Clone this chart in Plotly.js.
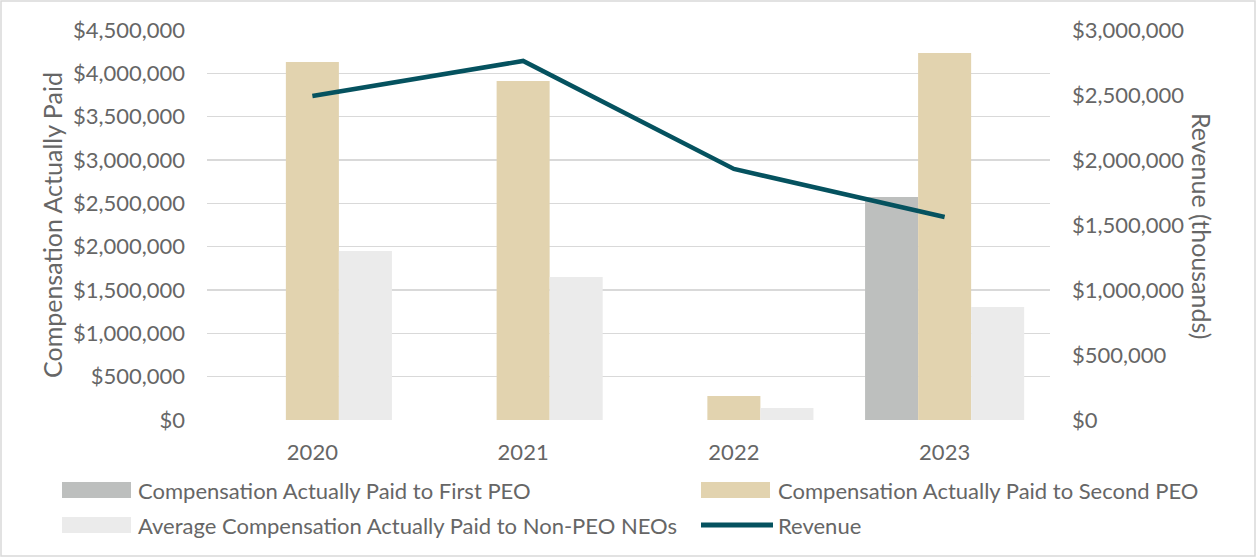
<!DOCTYPE html>
<html>
<head>
<meta charset="utf-8">
<script src="https://cdn.plot.ly/plotly-3.0.1.min.js"></script>
<style>
  html, body { margin: 0; padding: 0; background: #fff; }
  #chart { width: 1258px; height: 560px; }
</style>
</head>
<body>
<div id="chart"></div>
<script>
// ---- data ----
const years = ["2020", "2021", "2022", "2023"];
const firstPEO = [null, null, null, 2573000];
const secondPEO = [4131000, 3912000, 277000, 4235000];
const nonPEO = [1950000, 1650000, 138000, 1304000];
const revenue = [2492000, 2762000, 1931000, 1562000];
const seriesNames = [
  "Compensation Actually Paid to First PEO",
  "Compensation Actually Paid to Second PEO",
  "Average Compensation Actually Paid to Non-PEO NEOs",
  "Revenue"
];
const leftTicks = [0, 500000, 1000000, 1500000, 2000000, 2500000, 3000000, 3500000, 4000000, 4500000];
const rightTicks = [0, 500000, 1000000, 1500000, 2000000, 2500000, 3000000];
const money = v => "$" + v.toLocaleString("en-US");

// ---- styles ----
const colors = ["#BDBFBE", "#E2D3AF", "#EBEBEB", "#05525F"];
const textColor = "#666666";
const fontFam = "Lato, 'Open Sans', sans-serif";
const W = 1258, H = 560;
const M = {l: 207, r: 208, t: 30, b: 140};
const pw = W - M.l - M.r, ph = H - M.t - M.b;
const px = x => (x - M.l) / pw;
const py = y => (H - M.b - y) / ph;

const traces = [
  {type: "bar", x: years, y: firstPEO, name: seriesNames[0], marker: {color: colors[0]}, showlegend: false, hoverinfo: "skip"},
  {type: "bar", x: years, y: secondPEO, name: seriesNames[1], marker: {color: colors[1]}, showlegend: false, hoverinfo: "skip"},
  {type: "bar", x: years, y: nonPEO, name: seriesNames[2], marker: {color: colors[2]}, showlegend: false, hoverinfo: "skip"},
  {type: "scatter", mode: "lines", x: years, y: revenue, yaxis: "y2", name: seriesNames[3],
   line: {color: colors[3], width: 4.5}, showlegend: false, hoverinfo: "skip"}
];

// custom legend
const shapes = [];
const annotations = [];
const legendItems = [
  {i: 0, sx: 62, tx: 137, cy: 490, kind: "bar"},
  {i: 1, sx: 701, tx: 777, cy: 490, kind: "bar"},
  {i: 2, sx: 62, tx: 137, cy: 525, kind: "bar"},
  {i: 3, sx: 701, tx: 777, cy: 525, kind: "line"}
];
legendItems.forEach(it => {
  if (it.kind === "bar") {
    shapes.push({type: "rect", xref: "paper", yref: "paper",
      x0: px(it.sx), x1: px(it.sx + 69), y0: py(it.cy - 8), y1: py(it.cy + 8),
      fillcolor: colors[it.i], line: {width: 0}});
  } else {
    shapes.push({type: "line", xref: "paper", yref: "paper",
      x0: px(it.sx), x1: px(it.sx + 72), y0: py(it.cy), y1: py(it.cy),
      line: {color: colors[it.i], width: 5}});
  }
  annotations.push({xref: "paper", yref: "paper", x: px(it.tx), y: py(it.cy),
    xanchor: "left", yanchor: "middle", showarrow: false, text: seriesNames[it.i],
    borderpad: 0,
    font: {family: fontFam, size: 22, color: textColor}});
});

// outer border
shapes.push({type: "rect", xref: "paper", yref: "paper",
  x0: px(1), x1: px(1255), y0: py(1), y1: py(556),
  line: {color: "#D9D9D9", width: 1.5}, fillcolor: "rgba(0,0,0,0)", layer: "below"});

// axis titles
annotations.push({xref: "paper", yref: "paper", x: px(52), y: py(225), textangle: -90,
  showarrow: false, xanchor: "center", yanchor: "middle", text: "Compensation Actually Paid",
  font: {family: fontFam, size: 25, color: textColor}});
annotations.push({xref: "paper", yref: "paper", x: px(1202), y: py(226), textangle: 90,
  showarrow: false, xanchor: "center", yanchor: "middle", text: "Revenue (thousands)",
  font: {family: fontFam, size: 25, color: textColor}});

const layout = {
  width: W, height: H,
  margin: M,
  paper_bgcolor: "#fff", plot_bgcolor: "#fff",
  font: {family: fontFam, size: 22, color: textColor},
  barmode: "group", bargap: 0.245, bargroupgap: 0,
  showlegend: false,
  xaxis: {type: "category", showgrid: false, zeroline: false, showline: false,
    ticks: "", ticklabelstandoff: 17, tickfont: {family: fontFam, size: 22, color: textColor}},
  yaxis: {range: [0, 4500000], tickmode: "array", tickvals: leftTicks, ticktext: leftTicks.map(money),
    showgrid: true, gridcolor: "#D9D9D9", gridwidth: 1.5, zeroline: false, showline: false,
    ticks: "", ticklabelstandoff: 21, tickfont: {family: fontFam, size: 22, color: textColor}},
  yaxis2: {range: [0, 3000000], tickmode: "array", tickvals: rightTicks, ticktext: rightTicks.map(money),
    overlaying: "y", side: "right", showgrid: false, zeroline: false, showline: false,
    ticks: "", ticklabelstandoff: 21, tickfont: {family: fontFam, size: 22, color: textColor}},
  shapes: shapes,
  annotations: annotations
};

Plotly.newPlot("chart", traces, layout, {displayModeBar: false, staticPlot: true});
</script>
</body>
</html>
